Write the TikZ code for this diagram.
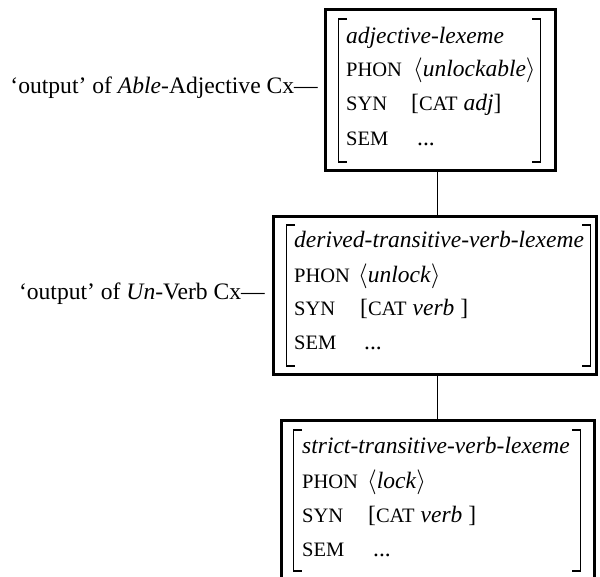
\documentclass[tikz,border=0pt]{standalone}
\usepackage{fontspec}
\setmainfont{Liberation Serif}
\newcommand\fsc[1]{{\fontsize{20.5}{20.5}\selectfont #1}}
\newcommand\ang[1]{$\langle$\textit{#1}$\rangle$}
\begin{document}
\begin{tikzpicture}[x=1pt,y=-1pt,
  box/.style={draw, line width=3pt},
  brk/.style={line width=1.3pt},
  txt/.style={anchor=base west, inner sep=0pt, font=\fontsize{23.5}{28}\selectfont},
  lbl/.style={anchor=base east, inner sep=0pt, font=\fontsize{23.6}{28}\selectfont},
  conn/.style={line width=1pt}]
\useasboundingbox (0,0) rectangle (600,577);
\clip (0,0) rectangle (600,577);
% boxes
\draw[box] (325,9.5) rectangle (555,171);
\draw[box] (273,217) rectangle (596.5,375);
\draw[box] (281,420) rectangle (594,600);
\coordinate (b1s) at (437,171);
\coordinate (b2n) at (437,217);
\coordinate (b2s) at (437,375);
\coordinate (b3n) at (437,420);
\draw[conn] (b1s) -- (b2n);
\draw[conn] (b2s) -- (b3n);
% brackets
\draw[brk] (347,19) -- (338.5,19) -- (338.5,162) -- (347,162);
\draw[brk] (532,19) -- (540.5,19) -- (540.5,162) -- (532,162);
\draw[brk] (295,225) -- (286.5,225) -- (286.5,366) -- (295,366);
\draw[brk] (582,225) -- (590.5,225) -- (590.5,366) -- (582,366);
\draw[brk] (302,430) -- (293.5,430) -- (293.5,571) -- (302,571);
\draw[brk] (572,430) -- (580.5,430) -- (580.5,571) -- (572,571);
% box 1
\node[txt] (t1a) at (346,44) {\textit{adjective-lexeme}};
\node[txt] (t1b) at (346,77) {\fsc{PHON}};
\node[txt] (t1c) at (346,111) {\fsc{SYN}};
\node[txt] (t1d) at (346,146) {\fsc{SEM}};
\node[txt] (v1b) at (413,77) {\ang{unlockable}};
\node[txt] (v1c) at (411,111) {[\fsc{CAT} \textit{adj}]};
\node[txt] (v1d) at (417,146) {...};
% box 2
\node[txt] (t2a) at (294,248) {\textit{derived-transitive-verb-lexeme}};
\node[txt] (t2b) at (294,283) {\fsc{PHON}};
\node[txt] (t2c) at (294,316) {\fsc{SYN}};
\node[txt] (t2d) at (294,350) {\fsc{SEM}};
\node[txt] (v2b) at (358,283) {\ang{unlock}};
\node[txt] (v2c) at (360,316) {[\fsc{CAT} \textit{verb} ]};
\node[txt] (v2d) at (364,350) {...};
% box 3
\node[txt] (t3a) at (302,453) {\textit{strict-transitive-verb-lexeme}};
\node[txt] (t3b) at (302,488) {\fsc{PHON}};
\node[txt] (t3c) at (302,522) {\fsc{SYN}};
\node[txt] (t3d) at (302,556) {\fsc{SEM}};
\node[txt] (v3b) at (367,488) {\ang{lock}};
\node[txt] (v3c) at (368,522) {[\fsc{CAT} \textit{verb} ]};
\node[txt] (v3d) at (373,556) {...};
% labels
\node[lbl] (l1) at (318,94) {‘output’ of \textit{Able}-Adjective Cx—};
\node[lbl] (l2) at (265,300) {‘output’ of \textit{Un}-Verb Cx—};
\end{tikzpicture}
\end{document}
